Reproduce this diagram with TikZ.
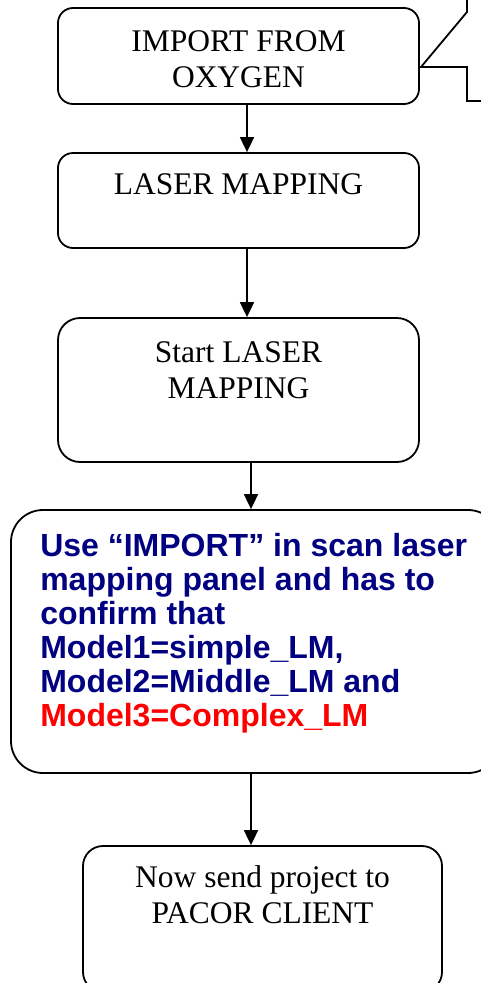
\documentclass[tikz,border=0pt]{standalone}
\usepackage{fontspec}
\setmainfont{Liberation Serif}
\setsansfont{Liberation Sans}
\usetikzlibrary{positioning, arrows.meta}
\definecolor{navy}{RGB}{0,0,128}
\begin{document}
\begin{tikzpicture}[x=1pt, y=-1pt,
    stepbox/.style={draw, line width=1.8pt, inner sep=0pt},
    boxtext/.style={inner sep=0pt, align=center, font=\fontsize{31.5}{36}\selectfont},
    arr/.style={line width=1.8pt, -{Triangle[length=15pt, width=14pt]}}]
  \useasboundingbox (0,0) rectangle (481,983);
  % boxes
  \node [stepbox, rounded corners=15pt, minimum width=361pt, minimum height=96pt] (import) at (238.5,56) {};
  \node [stepbox, rounded corners=15pt, minimum width=361pt, minimum height=95pt] (laser) at (238.5,200.5) {};
  \node [stepbox, rounded corners=22pt, minimum width=361pt, minimum height=144pt] (start) at (238.5,390) {};
  \node [stepbox, rounded corners=32pt, minimum width=489pt, minimum height=263pt] (scan) at (255.5,641.5) {};
  \node [stepbox, rounded corners=20pt, minimum width=359pt, minimum height=146pt] (send) at (262.5,919) {};
  % texts
  \node [boxtext, below=23.5pt of import.north] (importtext) {IMPORT FROM\\OXYGEN};
  \node [boxtext, below=21.5pt of laser.north] (lasertext) {LASER MAPPING};
  \node [boxtext, below=24.5pt of start.north] (starttext) {Start LASER\\MAPPING};
  \node [boxtext, below=20.5pt of send.north] (sendtext) {Now send project to\\PACOR CLIENT};
  \node [inner sep=0pt, align=left, text=navy, font=\sffamily\bfseries\fontsize{32}{34}\selectfont,
         below right=24pt and 30pt of scan.north west] (scantext)
        {Use “IMPORT” in scan laser\\mapping panel and has to\\confirm that\\Model1=simple\_LM,\\Model2=Middle\_LM and\\\textcolor{red}{Model3=Complex\_LM}};
  % callout
  \coordinate (tip) at (421,67);
  \draw [line width=1.8pt] (467,-10) -- (467,12) -- (tip) -- (467,67) -- (467,101) -- (490,101);
  % arrows
  \coordinate (upper) at (247,0);
  \coordinate (lower) at (251,0);
  \draw [arr] (import.south -| upper) -- (laser.north -| upper);
  \draw [arr] (laser.south -| upper) -- (start.north -| upper);
  \draw [arr] (start.south -| lower) -- (scan.north -| lower);
  \draw [arr] (scan.south -| lower) -- (send.north -| lower);
\end{tikzpicture}
\end{document}
